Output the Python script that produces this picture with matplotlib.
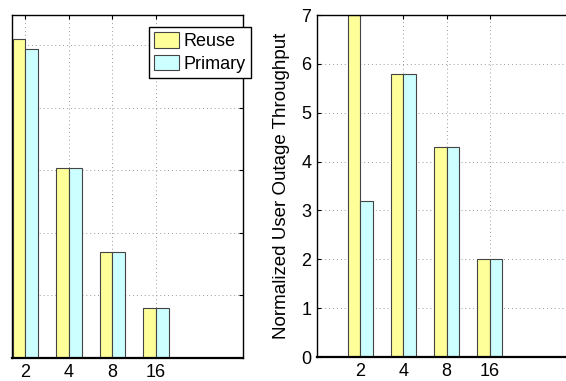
import numpy as np
import matplotlib.pyplot as plt

plt.rcParams["font.family"] = ["Liberation Sans", "DejaVu Sans"]

groups = ["2", "4", "8", "16"]
# left panel (y tick labels are cut off in the source image)
reuse_left = [5.09, 3.03, 1.69, 0.80]
primary_left = [4.94, 3.03, 1.69, 0.80]
# right panel
reuse_right = [7.0, 5.8, 4.3, 2.0]
primary_right = [3.2, 5.8, 4.3, 2.0]

YELLOW = "#ffff99"
CYAN = "#ccffff"
EDGE = "#444444"
bar_w = 0.29

fig = plt.figure(figsize=(5.66, 3.81), dpi=100)
W, H = 566, 381


def px_axes(x0, y0, x1, y1):
    # axes from pixel box (top-left origin)
    return fig.add_axes([x0 / W, 1 - y1 / H, (x1 - x0) / W, (y1 - y0) / H])


def style(ax):
    ax.grid(True, linestyle=(0, (1, 3)), color="#999999", linewidth=0.7)
    ax.set_axisbelow(True)
    ax.tick_params(direction="in", top=True, right=True, length=3,
                   labelsize=13, pad=4)
    for s in ax.spines.values():
        s.set_linewidth(1.0)
    ax.spines["bottom"].set_linewidth(1.6)


def draw_bars(ax, reuse, primary):
    x = np.arange(1, len(groups) + 1)
    b1 = ax.bar(x - bar_w / 2, reuse, bar_w, color=YELLOW, edgecolor=EDGE,
                linewidth=0.8, label="Reuse")
    b2 = ax.bar(x + bar_w / 2, primary, bar_w, color=CYAN, edgecolor=EDGE,
                linewidth=0.8, label="Primary")
    ax.set_xticks(x)
    ax.set_xticklabels(groups)
    return b1, b2


# left panel
ax1 = px_axes(12, 15, 243, 358)
b1, b2 = draw_bars(ax1, reuse_left, primary_left)
ax1.set_xlim(0.69, 6)
ax1.set_ylim(0, 5.48)
ax1.set_yticks(range(0, 6))
ax1.set_yticklabels([])
style(ax1)
ax1.tick_params(axis="y", left=False)
leg = fig.legend([b1, b2], ["Reuse", "Primary"], loc="upper left",
                 bbox_to_anchor=(149 / W, 1 - 27 / H), borderaxespad=0,
                 fancybox=False, edgecolor="black", framealpha=1,
                 fontsize=13, handlelength=1.35, handleheight=0.95,
                 handletextpad=0.25, borderpad=0.3, labelspacing=0.25)
leg.get_frame().set_linewidth(1.0)

# right panel
ax2 = px_axes(317, 15, 576, 357)
draw_bars(ax2, reuse_right, primary_right)
ax2.set_xlim(0, 6)
ax2.set_ylim(0, 7)
ax2.set_yticks(range(0, 8))
style(ax2)
ax2.set_ylabel("Normalized User Outage Throughput", fontsize=13.5, labelpad=8)

fig.savefig("out.png", dpi=100)
